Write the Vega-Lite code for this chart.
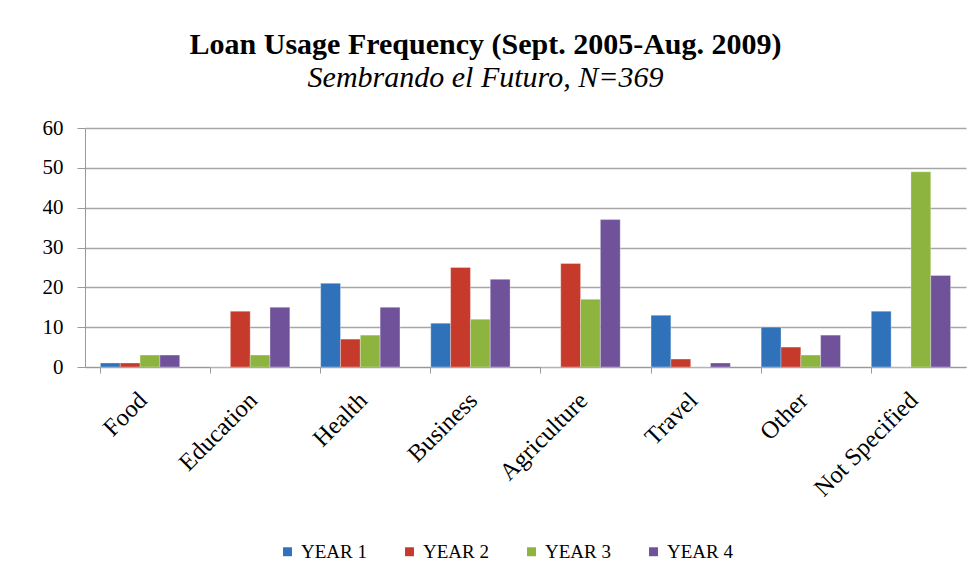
{
  "$schema": "https://vega.github.io/schema/vega-lite/v6.json",
  "width": 881,
  "height": 239,
  "autosize": {"type": "none"},
  "padding": {"left": 85, "top": 128, "right": 13, "bottom": 213},
  "background": "white",
  "title": {
    "text": "Loan Usage Frequency (Sept. 2005-Aug. 2009)",
    "subtitle": "Sembrando el Futuro, N=369",
    "font": "Liberation Serif",
    "fontSize": 30,
    "fontWeight": "bold",
    "color": "black",
    "subtitleFont": "Liberation Serif",
    "subtitleFontSize": 30,
    "subtitleFontStyle": "italic",
    "subtitleColor": "black",
    "subtitlePadding": 3,
    "anchor": "middle",
    "dx": -40,
    "offset": 24
  },
  "data": {
    "values": [
      {"category": "Food", "year": "YEAR 1", "count": 1},
      {"category": "Food", "year": "YEAR 2", "count": 1},
      {"category": "Food", "year": "YEAR 3", "count": 3},
      {"category": "Food", "year": "YEAR 4", "count": 3},
      {"category": "Education", "year": "YEAR 1", "count": 0},
      {"category": "Education", "year": "YEAR 2", "count": 14},
      {"category": "Education", "year": "YEAR 3", "count": 3},
      {"category": "Education", "year": "YEAR 4", "count": 15},
      {"category": "Health", "year": "YEAR 1", "count": 21},
      {"category": "Health", "year": "YEAR 2", "count": 7},
      {"category": "Health", "year": "YEAR 3", "count": 8},
      {"category": "Health", "year": "YEAR 4", "count": 15},
      {"category": "Business", "year": "YEAR 1", "count": 11},
      {"category": "Business", "year": "YEAR 2", "count": 25},
      {"category": "Business", "year": "YEAR 3", "count": 12},
      {"category": "Business", "year": "YEAR 4", "count": 22},
      {"category": "Agriculture", "year": "YEAR 1", "count": 0},
      {"category": "Agriculture", "year": "YEAR 2", "count": 26},
      {"category": "Agriculture", "year": "YEAR 3", "count": 17},
      {"category": "Agriculture", "year": "YEAR 4", "count": 37},
      {"category": "Travel", "year": "YEAR 1", "count": 13},
      {"category": "Travel", "year": "YEAR 2", "count": 2},
      {"category": "Travel", "year": "YEAR 3", "count": 0},
      {"category": "Travel", "year": "YEAR 4", "count": 1},
      {"category": "Other", "year": "YEAR 1", "count": 10},
      {"category": "Other", "year": "YEAR 2", "count": 5},
      {"category": "Other", "year": "YEAR 3", "count": 3},
      {"category": "Other", "year": "YEAR 4", "count": 8},
      {"category": "Not Specified", "year": "YEAR 1", "count": 14},
      {"category": "Not Specified", "year": "YEAR 2", "count": 0},
      {"category": "Not Specified", "year": "YEAR 3", "count": 49},
      {"category": "Not Specified", "year": "YEAR 4", "count": 23}
    ]
  },
  "mark": {"type": "bar", "stroke": "white", "strokeWidth": 0.5, "strokeOpacity": 0.6},
  "encoding": {
    "x": {
      "field": "category",
      "type": "nominal",
      "sort": null,
      "scale": {"paddingInner": 0.28, "paddingOuter": 0.14},
      "axis": {
        "title": null,
        "labelAngle": -45,
        "labelFont": "Liberation Serif",
        "labelFontSize": 24.5,
        "labelColor": "black",
        "labelPadding": 15,
        "labelOffset": -5,
        "bandPosition": 0,
        "tickSize": 6,
        "tickColor": "#999999",
        "domainColor": "#999999",
        "grid": false
      }
    },
    "xOffset": {"field": "year", "type": "nominal"},
    "y": {
      "field": "count",
      "type": "quantitative",
      "scale": {"domain": [0, 60]},
      "axis": {
        "title": null,
        "values": [0, 10, 20, 30, 40, 50, 60],
        "labelFont": "Liberation Serif",
        "labelFontSize": 21,
        "labelColor": "black",
        "labelPadding": 14,
        "tickSize": 8,
        "tickColor": "#999999",
        "domainColor": "#999999",
        "gridColor": "#a6a6a6",
        "gridWidth": 1.3
      }
    },
    "color": {
      "field": "year",
      "type": "nominal",
      "scale": {
        "domain": ["YEAR 1", "YEAR 2", "YEAR 3", "YEAR 4"],
        "range": ["#2f72ba", "#c63a2c", "#8cb43f", "#6f529a"]
      },
      "legend": {
        "title": null,
        "orient": "none",
        "legendX": 193,
        "legendY": 414,
        "direction": "horizontal",
        "symbolType": "square",
        "symbolSize": 80,
        "symbolStrokeWidth": 0,
        "labelFont": "Liberation Serif",
        "labelFontSize": 19,
        "labelColor": "black",
        "columnPadding": 33,
        "labelOffset": 4
      }
    }
  },
  "config": {"view": {"stroke": null}}
}
